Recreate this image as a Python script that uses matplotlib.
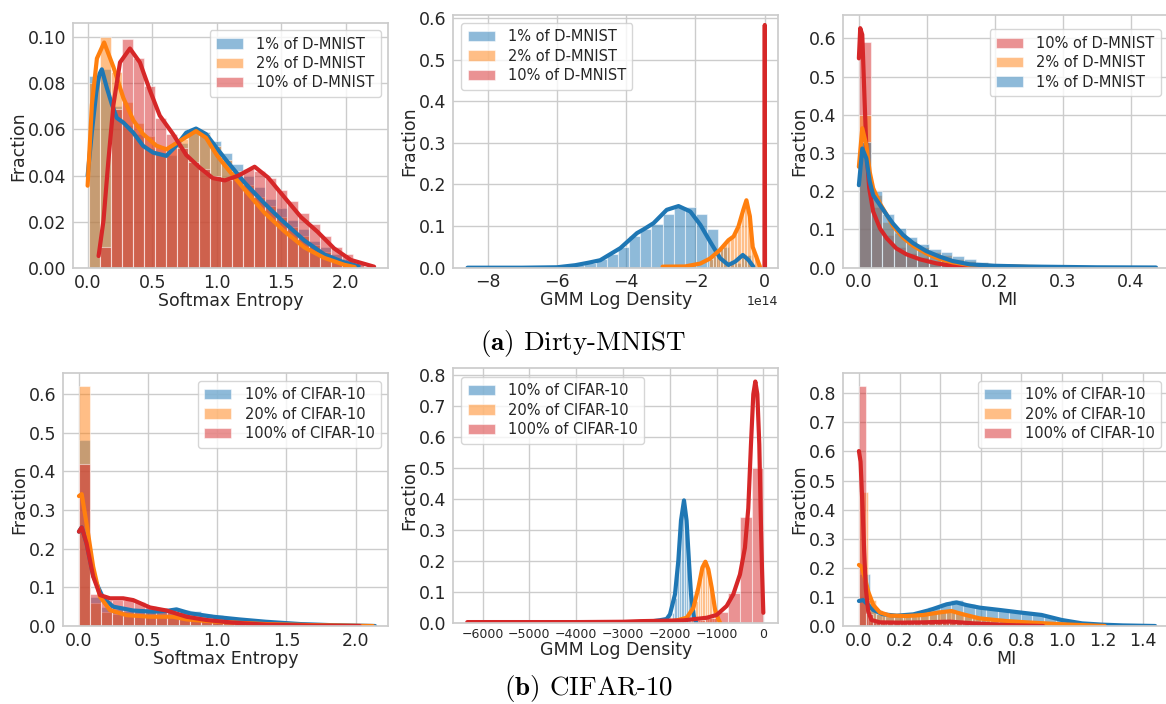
import matplotlib
matplotlib.use("Agg")
import matplotlib.pyplot as plt
from matplotlib.ticker import MultipleLocator, FormatStrFormatter

# ---------------- colours ----------------
C_BLUE, C_ORANGE, C_RED = "#1f77b4", "#ff7f0e", "#d62728"

# ================= DATA =================
# ---- (a) Dirty-MNIST : Softmax Entropy ----
a1_labels = ["1% of D-MNIST", "2% of D-MNIST", "10% of D-MNIST"]
a1_bin_start, a1_bin_width = 0.008, 0.0855
a1_hist_blue = [0.083, 0.086, 0.070, 0.062, 0.058, 0.052, 0.050, 0.049, 0.054, 0.060, 0.059, 0.055, 0.050,
                0.045, 0.040, 0.035, 0.030, 0.026, 0.021, 0.017, 0.012, 0.009, 0.006, 0.004, 0.002]
a1_hist_orange = [0.080, 0.100, 0.085, 0.072, 0.063, 0.057, 0.053, 0.052, 0.056, 0.060, 0.058, 0.053, 0.047,
                  0.042, 0.036, 0.031, 0.027, 0.022, 0.018, 0.014, 0.010, 0.007, 0.004, 0.002, 0.001]
a1_hist_red = [0.0, 0.009, 0.069, 0.099, 0.091, 0.079, 0.065, 0.058, 0.052, 0.046, 0.043, 0.040, 0.038,
               0.040, 0.043, 0.042, 0.039, 0.034, 0.029, 0.024, 0.019, 0.014, 0.009, 0.006, 0.002, 0.0007]
a1_kde_blue_x = [0.0, 0.033, 0.067, 0.092, 0.11, 0.149, 0.187, 0.226, 0.277, 0.354, 0.43, 0.508, 0.61, 0.687,
                 0.764, 0.84, 0.918, 1.0, 1.07, 1.217, 1.371, 1.5, 1.68, 1.834, 1.99, 2.1]
a1_kde_blue_y = [0.040, 0.059, 0.076, 0.084, 0.086, 0.078, 0.071, 0.065, 0.063, 0.0586, 0.0529, 0.050, 0.0486,
                 0.053, 0.0586, 0.0604, 0.058, 0.052, 0.047, 0.037, 0.028, 0.021, 0.012, 0.006, 0.0025, 0.001]
a1_kde_orange_x = [0.0, 0.033, 0.072, 0.128, 0.2, 0.277, 0.354, 0.43, 0.533, 0.61, 0.713, 0.84, 0.918, 1.0,
                   1.07, 1.217, 1.371, 1.525, 1.68, 1.834, 1.99, 2.07]
a1_kde_orange_y = [0.0357, 0.0707, 0.0907, 0.0976, 0.087, 0.0736, 0.064, 0.058, 0.053, 0.0514, 0.055, 0.0593,
                   0.0564, 0.049, 0.044, 0.034, 0.024, 0.016, 0.009, 0.0045, 0.0015, 0.0005]
a1_kde_red_x = [0.085, 0.123, 0.16, 0.2, 0.251, 0.328, 0.405, 0.482, 0.559, 0.662, 0.764, 0.867, 0.969, 1.063,
                1.166, 1.294, 1.397, 1.525, 1.654, 1.783, 1.91, 2.04, 2.22]
a1_kde_red_y = [0.0053, 0.0207, 0.046, 0.0707, 0.089, 0.095, 0.089, 0.077, 0.066, 0.058, 0.049, 0.0436, 0.039,
                0.038, 0.040, 0.0439, 0.0393, 0.0307, 0.0221, 0.0157, 0.0086, 0.0036, 0.0007]

# ---- (a) Dirty-MNIST : GMM Log Density (values in units of 1e14) ----
GMM_SCALE = 1e14
a2_labels = ["1% of D-MNIST", "2% of D-MNIST", "10% of D-MNIST"]
a2_blue_bin_start, a2_blue_bin_width = -5.85, 0.322
a2_hist_blue = [0.003, 0.007, 0.012, 0.02, 0.033, 0.05, 0.075, 0.094, 0.105, 0.128, 0.146, 0.147, 0.128,
                0.093, 0.05, 0.012, 0.03]
a2_orange_bin_start, a2_orange_bin_width = -1.6, 0.1
a2_hist_orange = [0.02, 0.028, 0.037, 0.046, 0.056, 0.065, 0.072, 0.082, 0.10, 0.13, 0.155, 0.13, 0.06,
                  0.03, 0.008]
a2_red_bin_start, a2_red_bin_width = -0.03, 0.06
a2_hist_red = [0.025]
a2_kde_blue_x = [-8.58, -7.0, -6.0, -5.47, -5.09, -4.75, -4.17, -3.69, -3.5, -3.21, -2.83, -2.49, -2.15, -1.86,
                 -1.58, -1.29, -1.05, -0.855, -0.635, -0.47, -0.33]
a2_kde_blue_y = [0.0, 0.0, 0.001, 0.006, 0.012, 0.018, 0.047, 0.083, 0.092, 0.107, 0.139, 0.148, 0.135, 0.103,
                 0.063, 0.023, 0.0065, 0.0145, 0.0305, 0.0185, 0.0025]
a2_kde_orange_x = [-2.95, -2.3, -1.86, -1.58, -1.29, -1.05, -0.9, -0.76, -0.62, -0.53, -0.43, -0.35, -0.26, -0.14]
a2_kde_orange_y = [0.0025, 0.003, 0.01, 0.022, 0.043, 0.066, 0.075, 0.099, 0.139, 0.162, 0.123, 0.05, 0.03, 0.002]
a2_kde_red_x = [-0.006, 0.0, 0.006]
a2_kde_red_y = [0.0, 0.583, 0.0]

# ---- (a) Dirty-MNIST : MI ----
a3_labels = ["10% of D-MNIST", "2% of D-MNIST", "1% of D-MNIST"]
a3_bin_start, a3_bin_width = 0.0, 0.0172
a3_hist_red = [0.59, 0.16, 0.085, 0.055, 0.038, 0.027, 0.018, 0.012, 0.008, 0.005, 0.003, 0.002]
a3_hist_orange = [0.40, 0.19, 0.12, 0.09, 0.07, 0.055, 0.042, 0.032, 0.024, 0.018, 0.012, 0.008, 0.005, 0.003,
                  0.002, 0.001, 0.001, 0.0005]
a3_hist_blue = [0.33, 0.20, 0.14, 0.105, 0.08, 0.063, 0.05, 0.04, 0.031, 0.022, 0.014, 0.008, 0.005, 0.003,
                0.002, 0.0015, 0.001, 0.001, 0.0008, 0.0006, 0.0005, 0.0005, 0.0004, 0.0003, 0.0003]
a3_kde_red_x = [0.0, 0.002, 0.005, 0.0083, 0.011, 0.0152, 0.021, 0.031, 0.041, 0.055, 0.07, 0.09, 0.114, 0.138,
                0.163, 0.2]
a3_kde_red_y = [0.548, 0.627, 0.61, 0.443, 0.312, 0.208, 0.147, 0.103, 0.0768, 0.0506, 0.035, 0.0218, 0.0113,
                0.005, 0.002, 0.0005]
a3_kde_orange_x = [0.0, 0.005, 0.011, 0.016, 0.021, 0.031, 0.041, 0.05, 0.065, 0.08, 0.099, 0.119, 0.138, 0.163,
                   0.2, 0.25, 0.32]
a3_kde_orange_y = [0.264, 0.365, 0.32, 0.25, 0.208, 0.168, 0.138, 0.11, 0.0785, 0.057, 0.0375, 0.0227, 0.014,
                   0.007, 0.004, 0.002, 0.0005]
a3_kde_blue_x = [0.0, 0.005, 0.011, 0.016, 0.021, 0.031, 0.041, 0.05, 0.065, 0.08, 0.099, 0.119, 0.138, 0.163,
                 0.2, 0.25, 0.3, 0.35, 0.437]
a3_kde_blue_y = [0.216, 0.312, 0.286, 0.225, 0.19, 0.164, 0.138, 0.116, 0.0855, 0.064, 0.0436, 0.0288, 0.0175,
                 0.0087, 0.005, 0.003, 0.002, 0.001, 0.0005]

# ---- (b) CIFAR-10 : Softmax Entropy ----
b1_labels = ["10% of CIFAR-10", "20% of CIFAR-10", "100% of CIFAR-10"]
b1_bin_start, b1_bin_width = 0.0, 0.08
b1_hist_blue = [0.48, 0.075, 0.05, 0.045, 0.04, 0.038, 0.036, 0.036, 0.04, 0.042, 0.038, 0.032, 0.028, 0.024,
                0.02, 0.017, 0.014, 0.012, 0.01, 0.008, 0.006, 0.005, 0.004, 0.003, 0.002, 0.001, 0.001]
b1_hist_orange = [0.62, 0.06, 0.035, 0.03, 0.028, 0.026, 0.025, 0.025, 0.025, 0.024, 0.018, 0.015, 0.012, 0.011,
                  0.009, 0.008, 0.006, 0.005, 0.004, 0.003, 0.003, 0.002, 0.002, 0.001, 0.001, 0.001, 0.001]
b1_hist_red = [0.42, 0.082, 0.068, 0.066, 0.066, 0.062, 0.052, 0.046, 0.04, 0.035, 0.026, 0.02, 0.015, 0.011,
               0.008, 0.006, 0.004, 0.003, 0.002, 0.002, 0.001, 0.001, 0.001, 0.0005, 0.0005, 0.0005]
b1_kde_blue_x = [0.0, 0.02, 0.055, 0.103, 0.127, 0.176, 0.248, 0.392, 0.537, 0.633, 0.705, 0.8, 0.97, 1.16,
                 1.35, 1.6, 1.84, 2.14]
b1_kde_blue_y = [0.244, 0.255, 0.214, 0.13, 0.11, 0.0716, 0.05, 0.04, 0.037, 0.039, 0.043, 0.033, 0.024, 0.017,
                 0.011, 0.005, 0.002, 0.0]
b1_kde_orange_x = [0.0, 0.02, 0.055, 0.103, 0.152, 0.224, 0.344, 0.513, 0.68, 0.777, 0.994, 1.355, 1.716, 2.125]
b1_kde_orange_y = [0.336, 0.341, 0.265, 0.153, 0.076, 0.041, 0.028, 0.024, 0.024, 0.017, 0.011, 0.005, 0.002, 0.0]
b1_kde_red_x = [0.0, 0.02, 0.055, 0.103, 0.152, 0.224, 0.32, 0.392, 0.513, 0.633, 0.777, 0.922, 1.115, 1.355,
                1.716, 2.03]
b1_kde_red_y = [0.244, 0.255, 0.214, 0.128, 0.08, 0.0716, 0.0716, 0.067, 0.048, 0.04, 0.024, 0.0155, 0.0086,
                0.0034, 0.001, 0.0]

# ---- (b) CIFAR-10 : GMM Log Density ----
b2_labels = ["10% of CIFAR-10", "20% of CIFAR-10", "100% of CIFAR-10"]
b2_blue_bin_start, b2_blue_bin_width = -2000, 50
b2_hist_blue = [0.01, 0.03, 0.08, 0.17, 0.29, 0.37, 0.36, 0.25, 0.13, 0.05, 0.015]
b2_orange_bin_start, b2_orange_bin_width = -1550, 50
b2_hist_orange = [0.02, 0.04, 0.07, 0.11, 0.16, 0.19, 0.19, 0.16, 0.11, 0.06, 0.025, 0.008]
b2_red_bin_start, b2_red_bin_width = -1500, 250
b2_hist_red = [0.008, 0.015, 0.035, 0.097, 0.34, 0.5]
b2_kde_blue_x = [-2600, -2208, -2066, -1994, -1887, -1816, -1759, -1695, -1640, -1590, -1545, -1481, -1438]
b2_kde_blue_y = [0.0, 0.008, 0.012, 0.027, 0.092, 0.2, 0.33, 0.395, 0.33, 0.2, 0.092, 0.016, 0.002]
b2_kde_orange_x = [-2200, -1850, -1637, -1494, -1388, -1302, -1238, -1174, -1103, -1032, -960, -925]
b2_kde_orange_y = [0.0, 0.0075, 0.016, 0.048, 0.113, 0.178, 0.197, 0.172, 0.113, 0.043, 0.011, 0.0]
b2_kde_red_x = [-6325, -5000, -4000, -3000, -2635, -1709, -1210, -997, -783, -641, -499, -393, -321, -264,
                -214, -171, -128, -86, -57, -29, 0]
b2_kde_red_y = [0.002, 0.002, 0.002, 0.003, 0.005, 0.0075, 0.016, 0.025, 0.054, 0.092, 0.156, 0.242, 0.37,
                0.576, 0.738, 0.779, 0.738, 0.576, 0.36, 0.178, 0.032]

# ---- (b) CIFAR-10 : MI ----
b3_labels = ["10% of CIFAR-10", "20% of CIFAR-10", "100% of CIFAR-10"]
b3_blue_bin_start, b3_blue_bin_width = 0.0, 0.057
b3_hist_blue = [0.18, 0.055, 0.035, 0.033, 0.038, 0.048, 0.065, 0.08, 0.088, 0.075, 0.064, 0.059, 0.055, 0.05,
                0.046, 0.041, 0.03, 0.021, 0.013, 0.008, 0.005, 0.003, 0.002, 0.001, 0.001, 0.0005]
b3_orange_bin_start, b3_orange_bin_width = 0.0, 0.043
b3_hist_orange = [0.46, 0.09, 0.04, 0.033, 0.032, 0.033, 0.036, 0.04, 0.045, 0.05, 0.05, 0.045, 0.035, 0.028,
                  0.024, 0.021, 0.018, 0.016, 0.014, 0.012, 0.01, 0.008, 0.006, 0.005, 0.004, 0.003, 0.002, 0.001]
b3_red_bin_start, b3_red_bin_width = 0.0, 0.034
b3_hist_red = [0.825, 0.04, 0.014, 0.011, 0.01, 0.01, 0.01, 0.011, 0.012, 0.012, 0.013, 0.014, 0.015, 0.015,
               0.014, 0.012, 0.01, 0.009, 0.007, 0.006, 0.005, 0.004, 0.003, 0.003, 0.002, 0.001, 0.001]
b3_kde_blue_x = [0.0, 0.021, 0.046, 0.071, 0.12, 0.186, 0.268, 0.35, 0.432, 0.481, 0.53, 0.596, 0.695, 0.8,
                 0.9, 1.0, 1.1, 1.2, 1.3, 1.46]
b3_kde_blue_y = [0.086, 0.089, 0.072, 0.055, 0.04, 0.0355, 0.04, 0.055, 0.0745, 0.081, 0.072, 0.063, 0.055,
                 0.046, 0.038, 0.0206, 0.009, 0.0046, 0.002, 0.0]
b3_kde_orange_x = [0.0, 0.013, 0.03, 0.046, 0.071, 0.103, 0.153, 0.235, 0.317, 0.399, 0.456, 0.514, 0.596,
                   0.727, 0.826, 1.0, 1.212]
b3_kde_orange_y = [0.21, 0.204, 0.164, 0.118, 0.072, 0.047, 0.0355, 0.0344, 0.0378, 0.047, 0.0516, 0.04, 0.026,
                   0.017, 0.0126, 0.006, 0.0]
b3_kde_red_x = [0.0, 0.008, 0.018, 0.026, 0.034, 0.046, 0.062, 0.103, 0.202, 0.317, 0.448, 0.563, 0.727, 0.908]
b3_kde_red_y = [0.6015, 0.565, 0.404, 0.255, 0.129, 0.049, 0.0206, 0.0126, 0.0115, 0.0126, 0.015, 0.0092,
                0.0034, 0.0]

captions = [r"$\mathbf{(a)}$ Dirty-MNIST", r"$\mathbf{(b)}$ CIFAR-10"]

# ================= STYLE =================
plt.rcParams.update({
    "font.family": "DejaVu Sans",
    "axes.facecolor": "white",
    "axes.edgecolor": "0.8",
    "axes.linewidth": 1.25,
    "axes.grid": True,
    "axes.axisbelow": True,
    "grid.color": "0.8",
    "grid.linewidth": 1.0,
    "text.color": "0.15",
    "axes.labelcolor": "0.15",
    "xtick.color": "0.15",
    "ytick.color": "0.15",
    "xtick.major.size": 0,
    "ytick.major.size": 0,
    "xtick.major.pad": 4,
    "ytick.major.pad": 5,
    "xtick.labelsize": 12.5,
    "ytick.labelsize": 12.5,
    "axes.labelsize": 12.5,
    "axes.labelpad": 0,
    "mathtext.fontset": "cm",
})

W, H = 1166, 704
fig = plt.figure(figsize=(W / 100, H / 100), dpi=100)


def add_axes(l, t, r, b):
    return fig.add_axes([l / W, 1 - b / H, (r - l) / W, (b - t) / H])


def draw(ax, series, xscale=1.0):
    for s in series:
        n = len(s["hist"])
        lefts = [(s["start"] + i * s["width"]) * xscale for i in range(n)]
        ax.bar(lefts, s["hist"], width=s["width"] * xscale, align="edge", color=s["color"],
               alpha=0.5, edgecolor="white", linewidth=0.8, label=s["label"])
    for s in series:
        ax.plot([v * xscale for v in s["x"]], s["y"], color=s["color"], lw=3.0,
                solid_capstyle="round", solid_joinstyle="round")


def legend(ax, loc, px, py):
    ax.legend(loc=loc, bbox_to_anchor=(px / W, 1 - py / H), bbox_transform=fig.transFigure,
              borderaxespad=0, fontsize=10.5, labelspacing=0.3, handlelength=1.85,
              handletextpad=0.9, borderpad=0.45, frameon=True, edgecolor="0.8", framealpha=0.8)


# ---- panel a1 ----
ax = add_axes(73.3, 23.3, 388.3, 268.3)
draw(ax, [
    dict(hist=a1_hist_blue, start=a1_bin_start, width=a1_bin_width, color=C_BLUE, label=a1_labels[0],
         x=a1_kde_blue_x, y=a1_kde_blue_y),
    dict(hist=a1_hist_orange, start=a1_bin_start, width=a1_bin_width, color=C_ORANGE, label=a1_labels[1],
         x=a1_kde_orange_x, y=a1_kde_orange_y),
    dict(hist=a1_hist_red, start=a1_bin_start, width=a1_bin_width, color=C_RED, label=a1_labels[2],
         x=a1_kde_red_x, y=a1_kde_red_y),
])
ax.set_xlim(-0.111, 2.33)
ax.set_ylim(0, 0.1059)
ax.xaxis.set_major_locator(MultipleLocator(0.5))
ax.yaxis.set_major_locator(MultipleLocator(0.02))
ax.yaxis.set_major_formatter(FormatStrFormatter("%.2f"))
ax.xaxis.set_major_formatter(FormatStrFormatter("%.1f"))
ax.set_xlabel("Softmax Entropy")
ax.set_ylabel("Fraction")
legend(ax, "upper right", 381, 30)

# ---- panel a2 ----
ax = add_axes(453.3, 15, 778.3, 267.7)
draw(ax, [
    dict(hist=a2_hist_blue, start=a2_blue_bin_start, width=a2_blue_bin_width, color=C_BLUE, label=a2_labels[0],
         x=a2_kde_blue_x, y=a2_kde_blue_y),
    dict(hist=a2_hist_orange, start=a2_orange_bin_start, width=a2_orange_bin_width, color=C_ORANGE,
         label=a2_labels[1], x=a2_kde_orange_x, y=a2_kde_orange_y),
    dict(hist=a2_hist_red, start=a2_red_bin_start, width=a2_red_bin_width, color=C_RED, label=a2_labels[2],
         x=a2_kde_red_x, y=a2_kde_red_y),
], xscale=GMM_SCALE)
ax.set_xlim(-8.99 * GMM_SCALE, 0.39 * GMM_SCALE)
ax.set_ylim(0, 0.607)
ax.xaxis.set_major_locator(MultipleLocator(2 * GMM_SCALE))
ax.yaxis.set_major_locator(MultipleLocator(0.1))
ax.yaxis.set_major_formatter(FormatStrFormatter("%.1f"))
ax.xaxis.get_offset_text().set_fontsize(9)
ax.set_xlabel("GMM Log Density")
ax.set_ylabel("Fraction")
legend(ax, "upper left", 461, 22.7)

# ---- panel a3 ----
ax = add_axes(843.3, 15, 1171, 267.7)
draw(ax, [
    dict(hist=a3_hist_red, start=a3_bin_start, width=a3_bin_width, color=C_RED, label=a3_labels[0],
         x=a3_kde_red_x, y=a3_kde_red_y),
    dict(hist=a3_hist_orange, start=a3_bin_start, width=a3_bin_width, color=C_ORANGE, label=a3_labels[1],
         x=a3_kde_orange_x, y=a3_kde_orange_y),
    dict(hist=a3_hist_blue, start=a3_bin_start, width=a3_bin_width, color=C_BLUE, label=a3_labels[2],
         x=a3_kde_blue_x, y=a3_kde_blue_y),
])
ax.set_xlim(-0.0229, 0.459)
ax.set_ylim(0, 0.6615)
ax.xaxis.set_major_locator(MultipleLocator(0.1))
ax.yaxis.set_major_locator(MultipleLocator(0.1))
ax.xaxis.set_major_formatter(FormatStrFormatter("%.1f"))
ax.yaxis.set_major_formatter(FormatStrFormatter("%.1f"))
ax.set_xlabel("MI")
ax.set_ylabel("Fraction")
legend(ax, "upper right", 1161, 29.3)

# ---- panel b1 ----
ax = add_axes(63.3, 373.3, 388.3, 626)
draw(ax, [
    dict(hist=b1_hist_blue, start=b1_bin_start, width=b1_bin_width, color=C_BLUE, label=b1_labels[0],
         x=b1_kde_blue_x, y=b1_kde_blue_y),
    dict(hist=b1_hist_orange, start=b1_bin_start, width=b1_bin_width, color=C_ORANGE, label=b1_labels[1],
         x=b1_kde_orange_x, y=b1_kde_orange_y),
    dict(hist=b1_hist_red, start=b1_bin_start, width=b1_bin_width, color=C_RED, label=b1_labels[2],
         x=b1_kde_red_x, y=b1_kde_red_y),
])
ax.set_xlim(-0.113, 2.236)
ax.set_ylim(0, 0.6535)
ax.xaxis.set_major_locator(MultipleLocator(0.5))
ax.yaxis.set_major_locator(MultipleLocator(0.1))
ax.xaxis.set_major_formatter(FormatStrFormatter("%.1f"))
ax.yaxis.set_major_formatter(FormatStrFormatter("%.1f"))
ax.set_xlabel("Softmax Entropy")
ax.set_ylabel("Fraction")
legend(ax, "upper right", 381, 380.7)

# ---- panel b2 ----
ax = add_axes(453.3, 368.3, 778.3, 622.7)
draw(ax, [
    dict(hist=b2_hist_blue, start=b2_blue_bin_start, width=b2_blue_bin_width, color=C_BLUE, label=b2_labels[0],
         x=b2_kde_blue_x, y=b2_kde_blue_y),
    dict(hist=b2_hist_orange, start=b2_orange_bin_start, width=b2_orange_bin_width, color=C_ORANGE,
         label=b2_labels[1], x=b2_kde_orange_x, y=b2_kde_orange_y),
    dict(hist=b2_hist_red, start=b2_red_bin_start, width=b2_red_bin_width, color=C_RED, label=b2_labels[2],
         x=b2_kde_red_x, y=b2_kde_red_y),
])
ax.set_xlim(-6624, 320)
ax.set_ylim(0, 0.8217)
ax.xaxis.set_major_locator(MultipleLocator(1000))
ax.yaxis.set_major_locator(MultipleLocator(0.1))
ax.yaxis.set_major_formatter(FormatStrFormatter("%.1f"))
ax.tick_params(axis="x", labelsize=9)
ax.set_xlabel("GMM Log Density")
ax.set_ylabel("Fraction")
legend(ax, "upper left", 461, 376.7)

# ---- panel b3 ----
ax = add_axes(843.3, 373.3, 1170, 626)
draw(ax, [
    dict(hist=b3_hist_blue, start=b3_blue_bin_start, width=b3_blue_bin_width, color=C_BLUE, label=b3_labels[0],
         x=b3_kde_blue_x, y=b3_kde_blue_y),
    dict(hist=b3_hist_orange, start=b3_orange_bin_start, width=b3_orange_bin_width, color=C_ORANGE,
         label=b3_labels[1], x=b3_kde_orange_x, y=b3_kde_orange_y),
    dict(hist=b3_hist_red, start=b3_red_bin_start, width=b3_red_bin_width, color=C_RED, label=b3_labels[2],
         x=b3_kde_red_x, y=b3_kde_red_y),
])
ax.set_xlim(-0.077, 1.533)
ax.set_ylim(0, 0.8687)
ax.xaxis.set_major_locator(MultipleLocator(0.2))
ax.yaxis.set_major_locator(MultipleLocator(0.1))
ax.xaxis.set_major_formatter(FormatStrFormatter("%.1f"))
ax.yaxis.set_major_formatter(FormatStrFormatter("%.1f"))
ax.set_xlabel("MI")
ax.set_ylabel("Fraction")
legend(ax, "upper right", 1161, 380.7)

# ---- captions ----
fig.text(583 / W, 1 - 350 / H, captions[0], family="cmr10", fontsize=19.5, ha="center", va="baseline",
         color="black")
fig.text(589 / W, 1 - 695 / H, captions[1], family="cmr10", fontsize=19.5, ha="center", va="baseline",
         color="black")

fig.savefig("out.png", dpi=100)
